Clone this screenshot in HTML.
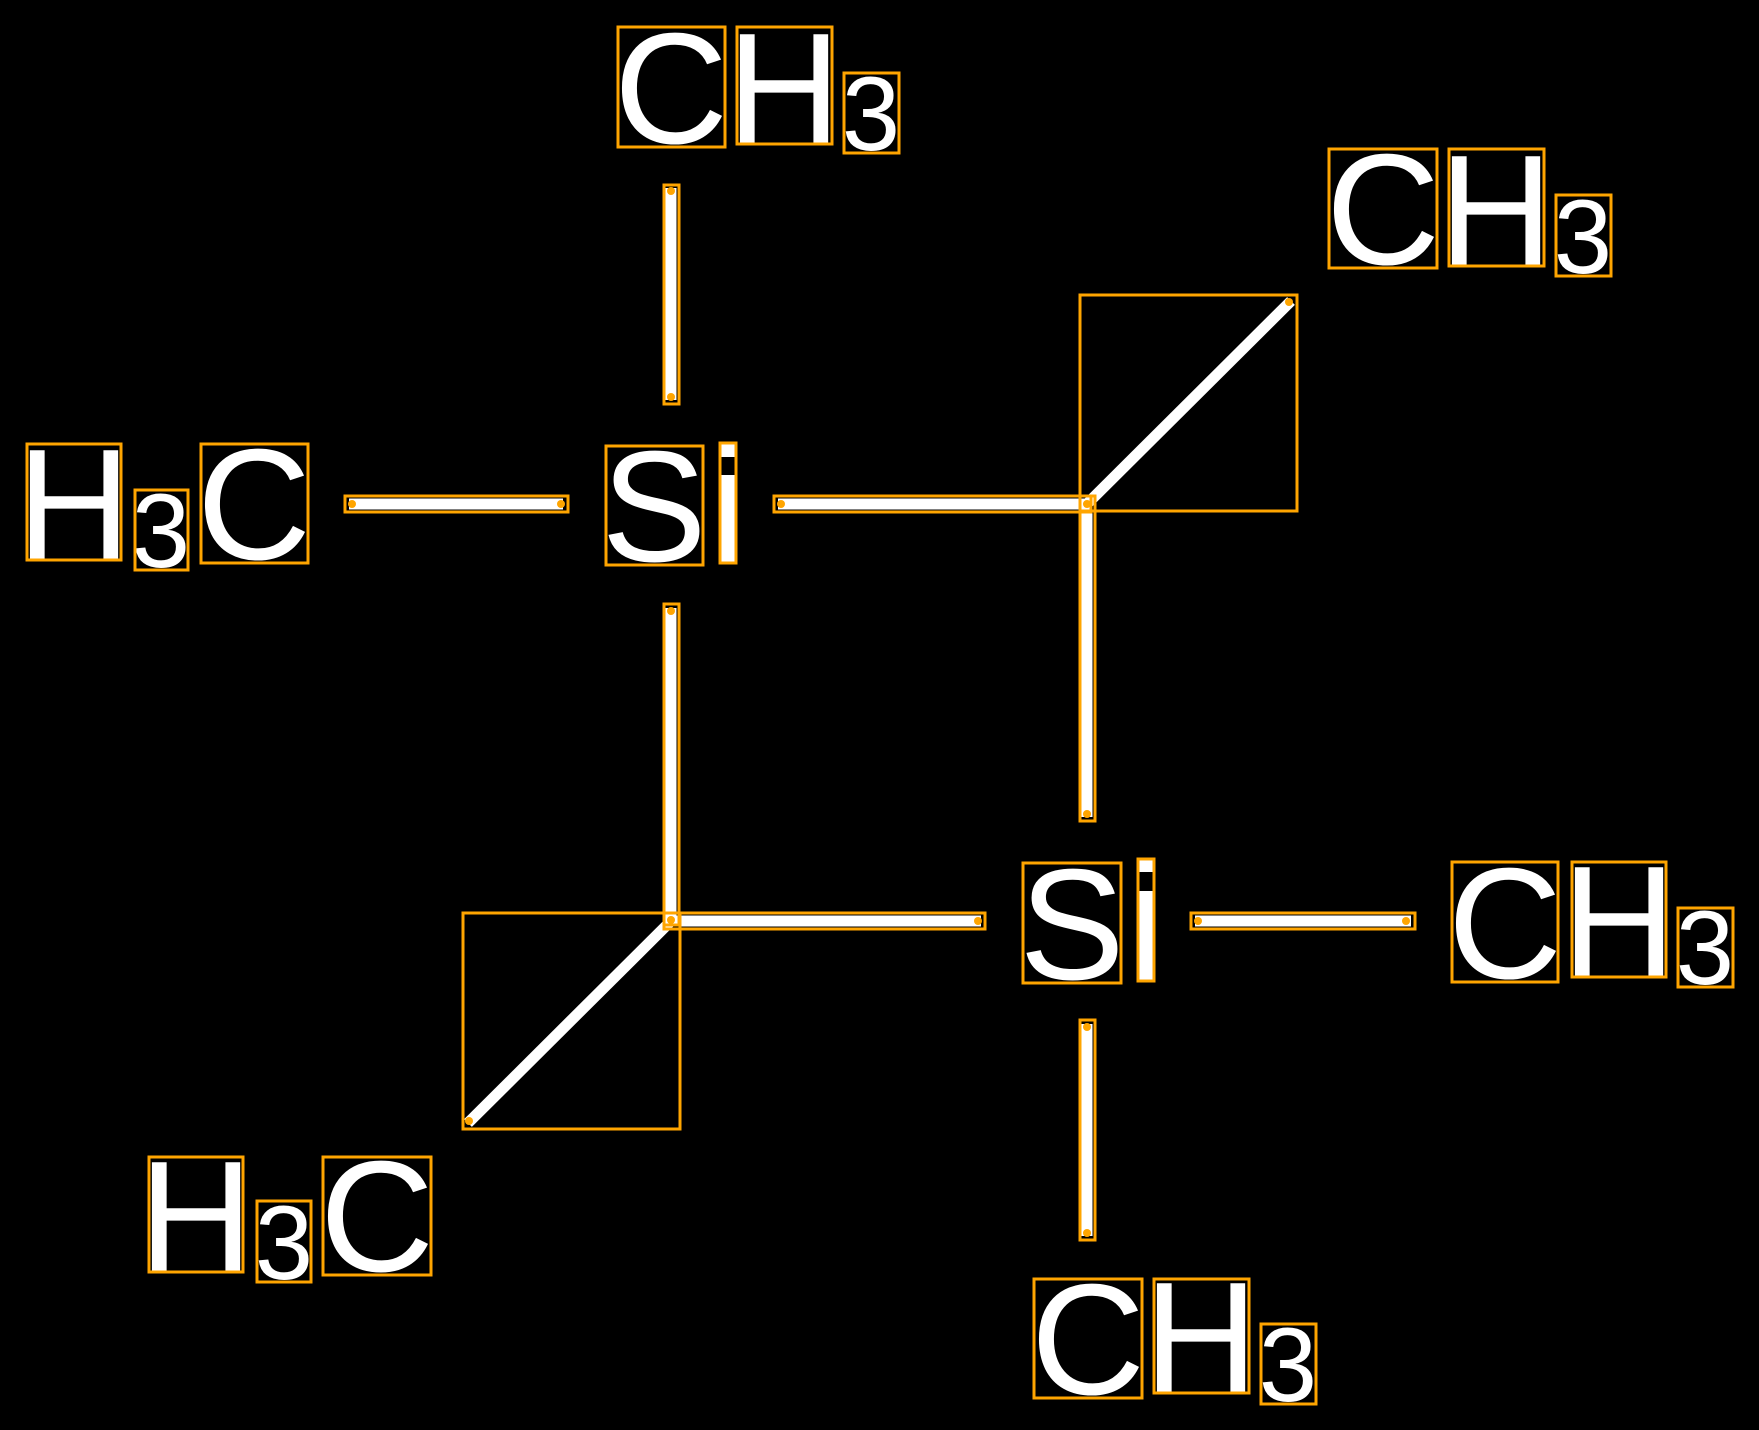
<!DOCTYPE html>
<html><head><meta charset="utf-8"><style>
html,body{margin:0;padding:0;background:#000;}
svg{display:block}
text{font-family:"Liberation Sans",sans-serif;fill:#fff}
.o{fill:none;stroke:#FFA500;stroke-width:3}
.d{fill:#FFA500}
</style></head><body>
<svg width="1759" height="1430" viewBox="0 0 1759 1430" xmlns="http://www.w3.org/2000/svg">
<rect width="1759" height="1430" fill="#000"/>

<!-- bonds: white lines -->
<g stroke="#fff" stroke-width="11" stroke-linecap="butt">
<line x1="349" y1="504" x2="563" y2="504"/>
<line x1="671" y1="188" x2="671" y2="400"/>
<line x1="778" y1="504" x2="1087" y2="504"/>
<line x1="1087" y1="504" x2="1291" y2="301"/>
<line x1="1087" y1="504" x2="1087" y2="817"/>
<line x1="671" y1="608" x2="671" y2="921"/>
<line x1="671" y1="921" x2="981" y2="921"/>
<line x1="671" y1="921" x2="468" y2="1123"/>
<line x1="1195" y1="921" x2="1411" y2="921"/>
<line x1="1087" y1="1024" x2="1087" y2="1236"/>
</g>
<!-- bond outlines -->
<g class="o">
<rect x="345" y="496" width="223" height="16"/>
<rect x="664" y="185" width="15" height="219"/>
<rect x="774" y="496" width="317" height="16"/>
<rect x="1080" y="295" width="217" height="216"/>
<rect x="1080" y="496" width="15" height="325"/>
<rect x="664" y="604" width="15" height="321"/>
<rect x="664" y="913" width="321" height="16"/>
<rect x="463" y="913" width="217" height="216"/>
<rect x="1191" y="913" width="224" height="16"/>
<rect x="1080" y="1020" width="15" height="220"/>
</g>
<g class="d">
<circle cx="352" cy="504" r="4"/><circle cx="561" cy="504" r="4"/>
<circle cx="671" cy="191" r="4"/><circle cx="671" cy="397" r="4"/>
<circle cx="781" cy="504" r="4"/><circle cx="1087" cy="504" r="4"/>
<circle cx="1289" cy="302" r="4"/><circle cx="1087" cy="814" r="4"/>
<circle cx="671" cy="611" r="4"/><circle cx="671" cy="920" r="4"/>
<circle cx="978" cy="921" r="4"/><circle cx="469" cy="1121" r="4"/>
<circle cx="1198" cy="921" r="4"/><circle cx="1406" cy="921" r="4"/>
<circle cx="1087" cy="1027" r="4"/><circle cx="1087" cy="1233" r="4"/>
</g>

<!-- Si atoms -->
<text x="654" y="561" font-size="158" text-anchor="middle">S</text>
<rect x="720" y="443" width="16" height="120" fill="#fff"/>
<rect x="720" y="457" width="16" height="18" fill="#000"/>
<rect class="o" x="606" y="446" width="97" height="119"/>
<rect class="o" x="720" y="443" width="16" height="120"/>

<text x="1072" y="979" font-size="158" text-anchor="middle">S</text>
<rect x="1138" y="859" width="16" height="121" fill="#fff"/>
<rect x="1138" y="872" width="16" height="19" fill="#000"/>
<rect class="o" x="1023" y="863" width="98" height="120"/>
<rect class="o" x="1138" y="859" width="16" height="122"/>

<!-- labels -->
<g font-size="158" text-anchor="middle">
<!-- top CH3 -->
<text x="671" y="143">C</text><text x="784" y="143">H</text>
<text x="871" y="150" font-size="105">3</text>
<!-- right top CH3 -->
<text x="1383" y="264">C</text><text x="1496" y="265">H</text>
<text x="1583" y="273" font-size="105">3</text>
<!-- left H3C -->
<text x="74" y="559">H</text><text x="161" y="567" font-size="105">3</text>
<text x="254" y="559">C</text>
<!-- right CH3 -->
<text x="1505" y="978">C</text><text x="1619" y="976">H</text>
<text x="1705" y="984" font-size="105">3</text>
<!-- bottom-left H3C -->
<text x="196" y="1271">H</text><text x="284" y="1279" font-size="105">3</text>
<text x="377" y="1271">C</text>
<!-- bottom CH3 -->
<text x="1088" y="1394">C</text><text x="1201" y="1392">H</text>
<text x="1288" y="1401" font-size="105">3</text>
</g>
<g class="o">
<rect x="618" y="27" width="107" height="120"/><rect x="737" y="27" width="95" height="117"/><rect x="844" y="73" width="55" height="80"/>
<rect x="1329" y="149" width="108" height="119"/><rect x="1449" y="149" width="95" height="117"/><rect x="1556" y="195" width="55" height="81"/>
<rect x="27" y="444" width="94" height="116"/><rect x="135" y="490" width="53" height="80"/><rect x="201" y="444" width="107" height="119"/>
<rect x="1452" y="862" width="106" height="120"/><rect x="1572" y="862" width="94" height="115"/><rect x="1678" y="908" width="55" height="79"/>
<rect x="149" y="1157" width="94" height="115"/><rect x="257" y="1201" width="54" height="81"/><rect x="323" y="1157" width="108" height="118"/>
<rect x="1034" y="1279" width="108" height="119"/><rect x="1154" y="1279" width="95" height="114"/><rect x="1261" y="1324" width="55" height="80"/>
</g>
</svg>
</body></html>
